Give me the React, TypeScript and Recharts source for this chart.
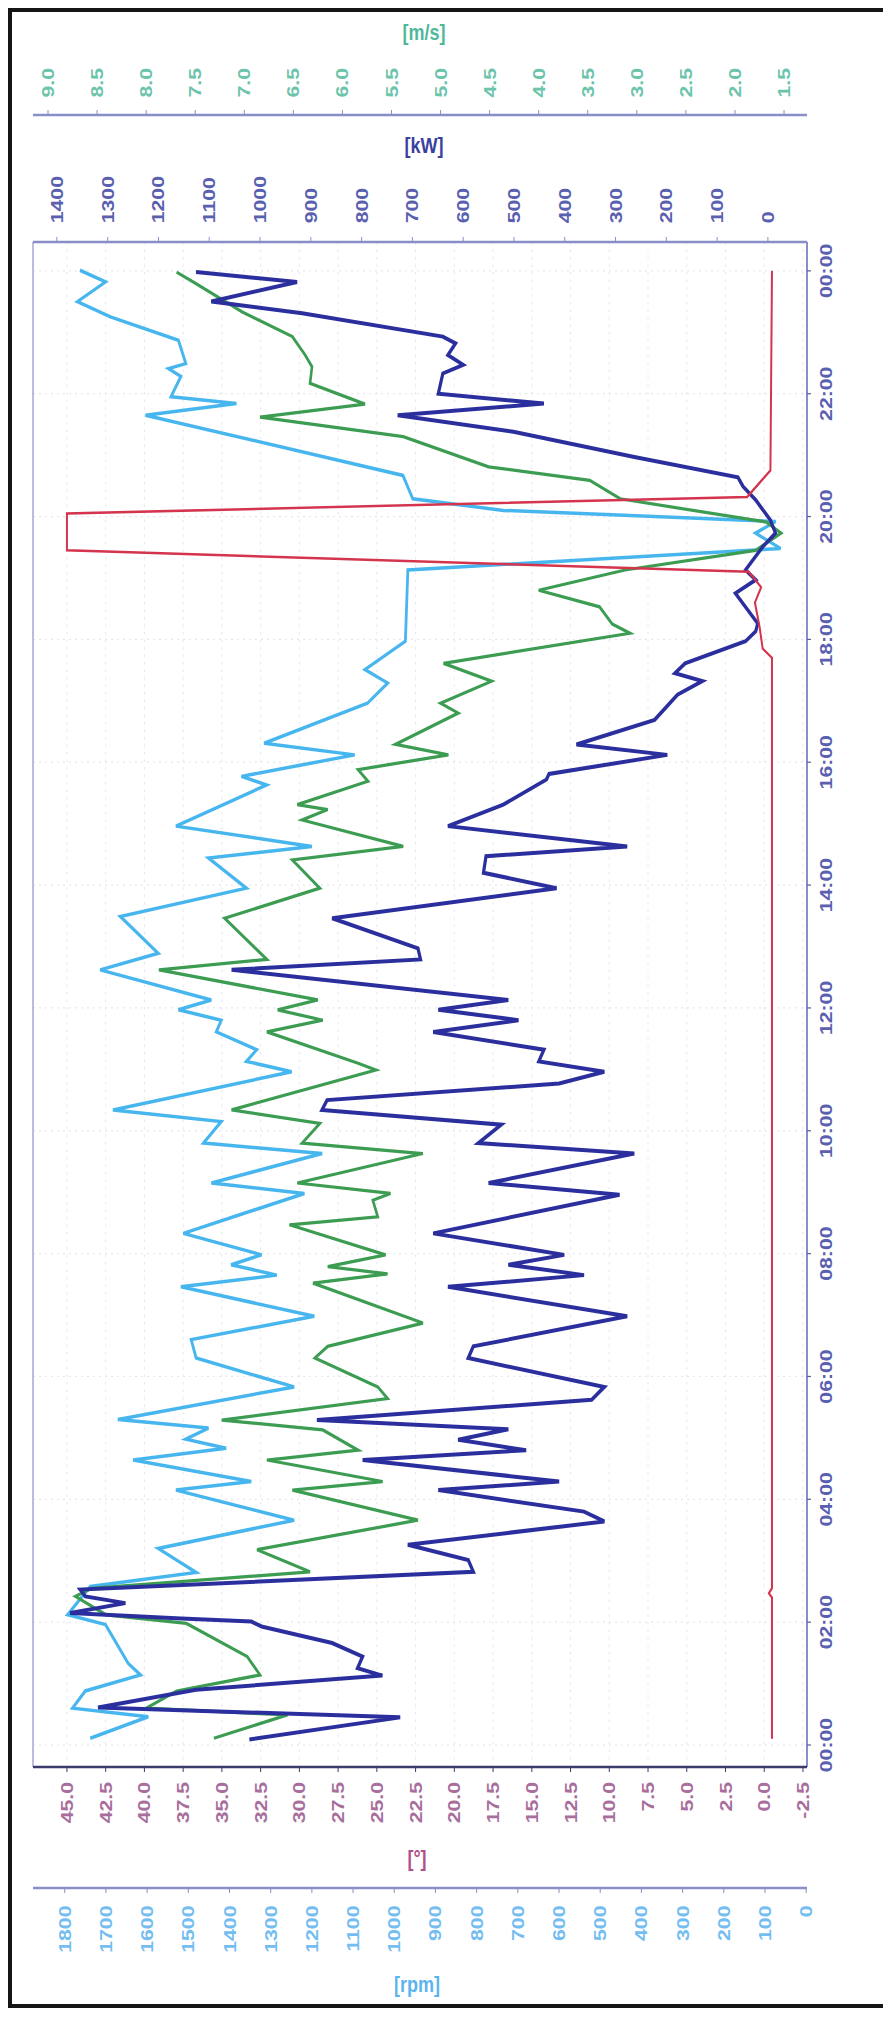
import { LineChart, Line, XAxis, YAxis, CartesianGrid, ReferenceLine } from 'recharts';

const FONT = '"Liberation Sans", Arial, sans-serif';

// hours of the day (0-24) and readings, one pair of arrays per series
const powerHours = [
  0.09, 0.45, 0.61, 0.9, 1.13, 1.25, 1.44, 1.66, 1.93, 2.01, 2.06, 2.15, 2.31, 2.42, 2.53, 2.82, 3.01, 3.26, 3.64, 3.8,
  4.15, 4.29, 4.64, 4.8, 4.97, 5.14, 5.29, 5.62, 5.83, 6.3, 6.49, 6.98, 7.46, 7.65, 7.82, 7.98, 8.33, 8.96, 9.15, 9.63,
  9.8, 10.1, 10.34, 10.5, 10.77, 10.96, 11.13, 11.32, 11.61, 11.8, 11.97, 12.13, 12.62, 12.79, 12.97, 13.46, 13.95, 14.2,
  14.47, 14.63, 14.96, 15.31, 15.72, 15.81, 16.12, 16.29, 16.69, 17.1, 17.32, 17.45, 17.61, 17.97, 18.13, 18.26, 18.75,
  18.97, 19.13, 19.51, 19.73, 19.94, 20.27, 20.49, 20.64, 20.97, 21.38, 21.65, 21.84, 22.0, 22.33, 22.47, 22.63, 22.82,
  22.93, 23.31, 23.5, 23.82, 23.98,
];
const powerKw = [
  1021, 724, 1319, 1126, 759, 808, 798, 858, 997, 1017, 1155, 1374, 1265, 1344, 1354, 580, 590, 709, 322, 362,
  649, 411, 798, 476, 610, 511, 888, 347, 322, 590, 580, 277, 630, 362, 511, 401, 659, 292, 550, 263,
  570, 525, 878, 868, 411, 322, 451, 441, 659, 491, 649, 511, 1056, 684, 689, 858, 416, 560,
  555, 277, 630, 521, 436, 431, 198, 377, 223, 178, 129, 183, 163, 44, 24, 20, 64,
  24, 44, 10, -15, -5, 24, 49, 59, 263, 501, 729, 441, 649, 640, 600, 630, 615,
  640, 917, 1096, 927, 1126,
];

const windHours = [
  0.11, 0.49, 0.6, 0.88, 1.14, 1.44, 1.98, 2.12, 2.42, 2.55, 2.82, 3.18, 3.66, 4.15, 4.29, 4.64, 4.8, 5.13, 5.29, 5.64,
  5.83, 6.3, 6.49, 6.87, 7.52, 7.67, 7.79, 7.98, 8.47, 8.6, 8.87, 8.98, 9.15, 9.63, 9.8, 10.12, 10.34, 10.99, 11.1, 11.61,
  11.8, 11.97, 12.13, 12.62, 12.79, 13.46, 13.95, 14.41, 14.63, 15.06, 15.23, 15.31, 15.69, 15.88, 16.12, 16.29, 16.8,
  16.96, 17.32, 17.61, 18.1, 18.25, 18.53, 18.8, 19.13, 19.45, 19.73, 19.91, 20.29, 20.59, 20.81, 21.3, 21.62, 21.83,
  22.17, 22.44, 22.63, 22.93, 23.33, 23.79, 23.98,
];
const windMs = [
  7.31, 6.56, 8.0, 7.69, 6.84, 6.97, 7.59, 8.41, 8.72, 8.56, 6.33, 6.87, 5.23, 6.51, 5.59, 6.77, 5.84, 6.2, 7.23, 5.54,
  5.64, 6.28, 6.15, 5.18, 6.3, 5.54, 6.15, 5.56, 6.54, 5.64, 5.69, 5.51, 6.46, 5.18, 6.41, 6.23, 7.13, 5.66, 5.84, 6.77,
  6.2, 6.66, 6.25, 7.87, 6.77, 7.2, 6.23, 6.51, 5.38, 6.41, 6.15, 6.46, 5.74, 5.84, 4.92, 5.46, 4.82,
  5.0, 4.48, 4.97, 3.07, 3.25, 3.38, 4.0, 3.12, 1.79, 1.53, 1.68, 3.17, 3.48, 4.51, 5.38, 6.84, 5.77,
  6.33, 6.31, 6.38, 6.51, 7.02, 7.49, 7.69,
];

const rpmHours = [
  0.11, 0.46, 0.6, 0.88, 1.14, 1.33, 1.96, 2.12, 2.58, 2.81, 3.2, 3.66, 4.15, 4.29, 4.64, 4.83, 4.98, 5.16, 5.3, 5.83,
  6.3, 6.6, 6.98, 7.46, 7.65, 7.82, 7.98, 8.33, 8.98, 9.15, 9.63, 9.8, 10.15, 10.34, 10.96, 11.13, 11.32, 11.61, 11.8,
  11.97, 12.13, 12.62, 12.89, 13.49, 13.95, 14.44, 14.63, 14.96, 15.63, 15.77, 16.12, 16.31, 16.96, 17.29, 17.51, 17.97,
  19.13, 19.48, 19.73, 19.92, 20.1, 20.29, 20.67, 21.65, 21.84, 21.95, 22.28, 22.41, 22.49, 22.87, 23.25, 23.5, 23.82,
  24.01,
];
const rpmValues = [
  1738, 1597, 1781, 1750, 1616, 1646, 1701, 1793, 1738, 1481, 1573, 1243, 1530, 1347, 1634, 1408, 1506, 1451, 1671, 1243,
  1481, 1493, 1194, 1518, 1285, 1396, 1322, 1512, 1218, 1444, 1175, 1463, 1420, 1683, 1249, 1359, 1334, 1432, 1420,
  1524, 1444, 1714, 1573, 1665, 1359, 1451, 1200, 1530, 1310, 1371, 1096, 1316, 1065, 1016, 1071, 973,
  967, 62, 123, 74, 735, 955, 979, 1604, 1383, 1542, 1518, 1548, 1506, 1524, 1689, 1769, 1701,
  1763,
];

const pitchHours = [0.1, 2.4, 2.47, 2.55, 17.7, 17.85, 18.2, 18.6, 18.85, 19.1, 19.45, 20.05, 20.32, 20.55, 20.75, 24.0];
const pitchDeg = [-0.5, -0.5, -0.3, -0.5, -0.5, 0.1, 0.3, 0.6, 0.2, 1.0, 45.0, 45.0, 1.1, 0.3, -0.4, -0.5];

const timeTicks = [0, 2, 4, 6, 8, 10, 12, 14, 16, 18, 20, 22, 24];
const kwTicks = [0, 100, 200, 300, 400, 500, 600, 700, 800, 900, 1000, 1100, 1200, 1300, 1400];
const windTicks = [1.5, 2, 2.5, 3, 3.5, 4, 4.5, 5, 5.5, 6, 6.5, 7, 7.5, 8, 8.5, 9];
const pitchTicks = [-2.5, 0, 2.5, 5, 7.5, 10, 12.5, 15, 17.5, 20, 22.5, 25, 27.5, 30, 32.5, 35, 37.5, 40, 42.5, 45];
const rpmTicks = [0, 100, 200, 300, 400, 500, 600, 700, 800, 900, 1000, 1100, 1200, 1300, 1400, 1500, 1600, 1700, 1800];

const pack = (hours: number[], vals: number[]) => hours.map((t, i) => ({ t, v: vals[i] }));
const powerData = pack(powerHours, powerKw);
const windData = pack(windHours, windMs);
const rpmData = pack(rpmHours, rpmValues);
const pitchData = pack(pitchHours, pitchDeg);

const AXIS = '#8a8ec8';
const tickStyle = (fill: string) => ({ fill, fontSize: 17, fontWeight: 700, fontFamily: FONT });
const hhmm = (h: number) => `${String(h % 24).padStart(2, '0')}:00`;

const UnitLabel = ({ x, y, color, text }: { x: number; y: number; color: string; text: string }) => (
  <div
    style={{
      position: 'absolute',
      left: x - 12,
      top: y - 12,
      transform: 'translate(-50%, -50%) scaleY(1.25)',
      color,
      fontSize: 18,
      fontWeight: 700,
      fontFamily: FONT,
      whiteSpace: 'nowrap',
    }}
  >
    {text}
  </div>
);

export default function App() {
  return (
    <div
      style={{
        position: 'relative',
        width: 880,
        height: 2000,
        border: '4px solid #151515',
        boxSizing: 'border-box',
        background: '#fff',
        overflow: 'hidden',
      }}
    >
      {/* chart drawn lying down, then turned so time runs bottom-to-top */}
      <div
        style={{
          position: 'absolute',
          left: -4,
          top: -4,
          width: 1600,
          height: 880,
          transformOrigin: '0 0',
          transform: 'translate(0px, 2000px) scale(1, 1.25) rotate(-90deg)',
        }}
      >
        <LineChart width={1600} height={880} margin={{ top: 25, right: 0, bottom: 0, left: 0 }}>
          <CartesianGrid yAxisId="pitch" stroke="#e6e6f0" strokeDasharray="2 4" />
          <XAxis
            dataKey="t"
            type="number"
            domain={[-0.358, 24.47]}
            ticks={timeTicks}
            allowDataOverflow
            tickFormatter={hhmm}
            height={81}
            axisLine={{ stroke: AXIS, strokeWidth: 2 }}
            tickLine={{ stroke: '#5a60a8' }}
            tickSize={4}
            tickMargin={9}
            tick={tickStyle('#5a60b0')}
          />
          <YAxis
            yAxisId="pitch"
            orientation="left"
            type="number"
            width={96.8}
            domain={[-2.76, 47.19]}
            ticks={pitchTicks}
            allowDataOverflow
            tickFormatter={(v: number) => v.toFixed(1)}
            axisLine={{ stroke: '#3c3c6c', strokeWidth: 2 }}
            tickLine={{ stroke: '#3c3c6c' }}
            tickSize={4}
            tickMargin={8}
            tick={tickStyle('#a86e9c')}
          />
          <YAxis
            yAxisId="rpm"
            orientation="left"
            type="number"
            width={96}
            domain={[-2, 1877]}
            ticks={rpmTicks}
            allowDataOverflow
            axisLine={{ stroke: AXIS, strokeWidth: 2 }}
            tickLine={{ stroke: AXIS }}
            tickSize={4}
            tickMargin={10}
            tick={tickStyle('#74bdf0')}
          />
          <YAxis
            yAxisId="kw"
            orientation="right"
            type="number"
            width={101.6}
            domain={[-77, 1447]}
            ticks={kwTicks}
            allowDataOverflow
            axisLine={{ stroke: AXIS, strokeWidth: 2 }}
            tickLine={{ stroke: AXIS }}
            tickSize={4}
            tickMargin={11}
            tick={tickStyle('#5a60b0')}
          />
          <YAxis
            yAxisId="wind"
            orientation="right"
            type="number"
            width={85.6}
            domain={[1.266, 9.153]}
            ticks={windTicks}
            allowDataOverflow
            tickFormatter={(v: number) => v.toFixed(1)}
            axisLine={{ stroke: AXIS, strokeWidth: 2 }}
            tickLine={{ stroke: AXIS }}
            tickSize={4}
            tickMargin={10}
            tick={tickStyle('#6cc4aa')}
          />
          <ReferenceLine yAxisId="kw" y={1447} stroke="#a4a8d6" strokeWidth={1.5} />
          <Line data={rpmData} yAxisId="rpm" dataKey="v" type="linear" stroke="#48b6ee" strokeWidth={2.8} dot={false} isAnimationActive={false} />
          <Line data={windData} yAxisId="wind" dataKey="v" type="linear" stroke="#3c9c52" strokeWidth={2.6} dot={false} isAnimationActive={false} />
          <Line data={powerData} yAxisId="kw" dataKey="v" type="linear" stroke="#2b2f9e" strokeWidth={3.2} dot={false} isAnimationActive={false} />
          <Line data={pitchData} yAxisId="pitch" dataKey="v" type="linear" stroke="#d4344e" strokeWidth={2} dot={false} isAnimationActive={false} />
        </LineChart>
      </div>
      <UnitLabel x={424} y={33} color="#4fb89a" text="[m/s]" />
      <UnitLabel x={424} y={146} color="#3a40a0" text="[kW]" />
      <UnitLabel x={417} y={1859} color="#b0508a" text="[°]" />
      <UnitLabel x={417} y={1985} color="#5ab4ee" text="[rpm]" />
    </div>
  );
}
